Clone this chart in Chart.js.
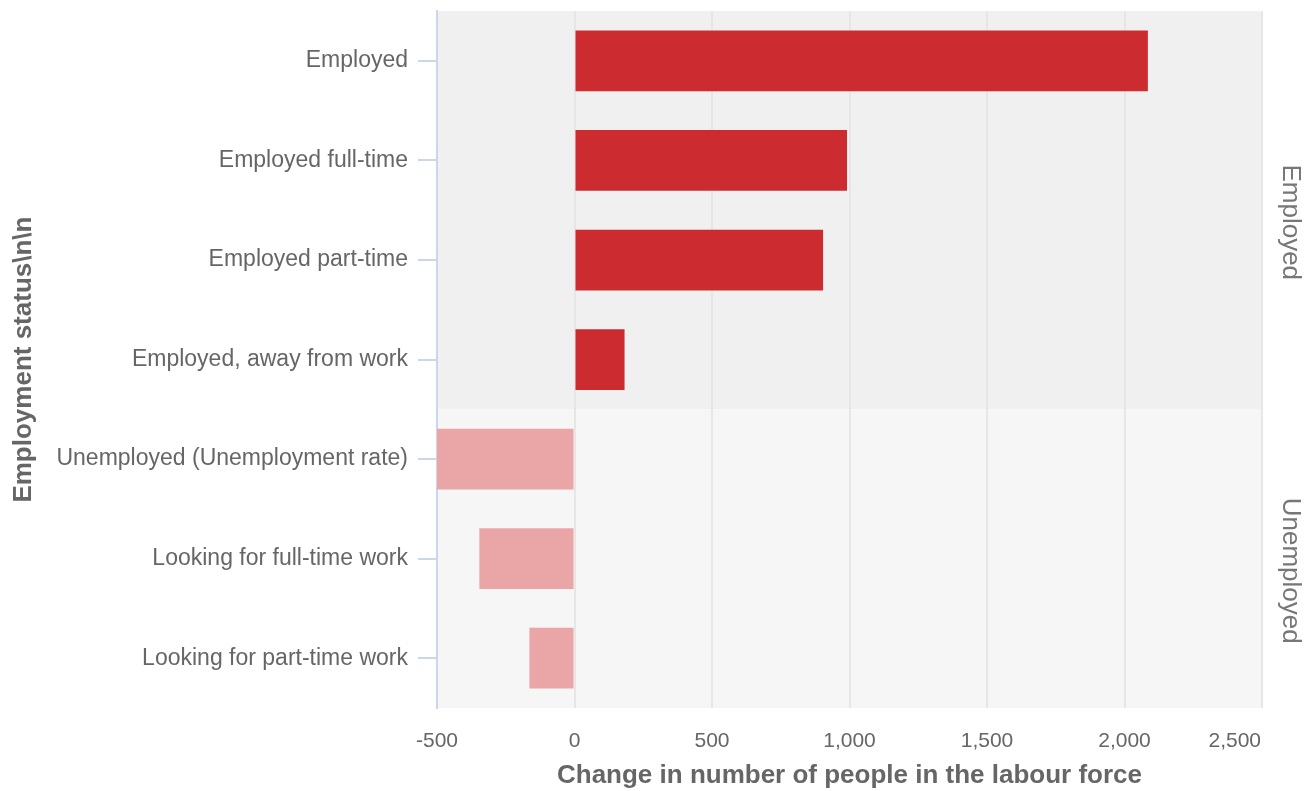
<!DOCTYPE html>
<html>
<head>
<meta charset="utf-8">
<script src="https://cdn.jsdelivr.net/npm/chart.js@4/dist/chart.umd.min.js"></script>
<style>
  html, body { margin: 0; padding: 0; background: #fff; }
</style>
</head>
<body>
<canvas id="labourChart" width="1311" height="791"></canvas>
<script>
const categories = [
  "Employed",
  "Employed full-time",
  "Employed part-time",
  "Employed, away from work",
  "Unemployed (Unemployment rate)",
  "Looking for full-time work",
  "Looking for part-time work"
];
const changes = [2085, 991, 904, 182, -500, -346, -164];
const groups = ["Employed", "Employed", "Employed", "Employed", "Unemployed", "Unemployed", "Unemployed"];
const groupNames = ["Employed", "Unemployed"];
const xTicks = [-500, 0, 500, 1000, 1500, 2000, 2500];

const FONT = "'Liberation Sans', Arial, Helvetica, sans-serif";
const barColors = { Employed: "#cc2b30", Unemployed: "#eaa5a7" };
const bandColors = { Employed: "#f0f0f0", Unemployed: "#f6f6f6" };

function groupSpan(chart, name) {
  const { chartArea, scales } = chart;
  const y = scales.y;
  const idx = groups.map((g, i) => g === name ? i : -1).filter(i => i >= 0);
  const first = idx[0], last = idx[idx.length - 1];
  const top = first === 0 ? chartArea.top : (y.getPixelForValue(first) + y.getPixelForValue(first - 1)) / 2;
  const bottom = last === groups.length - 1 ? chartArea.bottom : (y.getPixelForValue(last) + y.getPixelForValue(last + 1)) / 2;
  return { top, bottom };
}

// shaded band per group, rotated group names on the right, x tick labels kept inside
const groupBands = {
  id: "groupBands",
  beforeDraw(chart) {
    const { ctx, chartArea } = chart;
    groupNames.forEach(name => {
      const { top, bottom } = groupSpan(chart, name);
      ctx.save();
      ctx.fillStyle = bandColors[name];
      ctx.fillRect(chartArea.left, top, chartArea.right - chartArea.left, bottom - top);
      ctx.restore();
    });
  },
  afterDraw(chart) {
    const { ctx, chartArea, scales } = chart;
    groupNames.forEach(name => {
      const { top, bottom } = groupSpan(chart, name);
      ctx.save();
      ctx.translate(chartArea.right + 28, (top + bottom) / 2 + 12);
      ctx.rotate(Math.PI / 2);
      ctx.font = "26px " + FONT;
      ctx.fillStyle = "#777";
      ctx.textAlign = "center";
      ctx.textBaseline = "middle";
      ctx.fillText(name, 0, 0);
      ctx.restore();
    });

    const x = scales.x;
    ctx.save();
    ctx.font = "21px " + FONT;
    ctx.fillStyle = "#666";
    ctx.textBaseline = "middle";
    xTicks.forEach(v => {
      const label = v.toLocaleString("en-US");
      const w = ctx.measureText(label).width;
      let px = x.getPixelForValue(v) - w / 2;
      if (px + w > chartArea.right - 1) px = chartArea.right - 1 - w;
      ctx.fillText(label, px, chartArea.bottom + 33);
    });
    ctx.restore();
  }
};

new Chart(document.getElementById("labourChart"), {
  type: "bar",
  data: {
    labels: categories,
    datasets: [{
      data: changes,
      backgroundColor: groups.map(g => barColors[g]),
      barPercentage: 0.61,
      categoryPercentage: 1
    }]
  },
  options: {
    indexAxis: "y",
    responsive: false,
    animation: false,
    layout: { padding: { top: 0, right: 49, left: 0, bottom: 0 } },
    plugins: {
      legend: { display: false },
      tooltip: { enabled: false }
    },
    scales: {
      x: {
        min: xTicks[0],
        max: xTicks[xTicks.length - 1],
        afterBuildTicks: axis => { axis.ticks = xTicks.map(v => ({ value: v })); },
        afterFit: axis => { axis.height = 83; },
        grid: { color: "#e6e6e6", lineWidth: 2, drawTicks: false },
        border: { display: false },
        ticks: { display: false },
        title: {
          display: true,
          text: "Change in number of people in the labour force",
          color: "#666",
          font: { family: FONT, size: 26, weight: "bold" },
          padding: { top: 0, bottom: 0 }
        }
      },
      y: {
        afterFit: axis => { axis.width = 437; },
        grid: { offset: false, drawOnChartArea: false, drawTicks: true, tickLength: 19, color: "#ccd6eb", lineWidth: 2 },
        border: { display: true, color: "#ccd6eb", width: 2 },
        ticks: {
          padding: 10,
          color: "#666",
          font: { family: FONT, size: 23, lineHeight: 0.1 }
        },
        title: {
          display: true,
          text: "Employment status\\n\\n",
          color: "#666",
          font: { family: FONT, size: 26, weight: "bold" },
          padding: { top: 8, bottom: 0 }
        }
      }
    }
  },
  plugins: [groupBands]
});
</script>
</body>
</html>
